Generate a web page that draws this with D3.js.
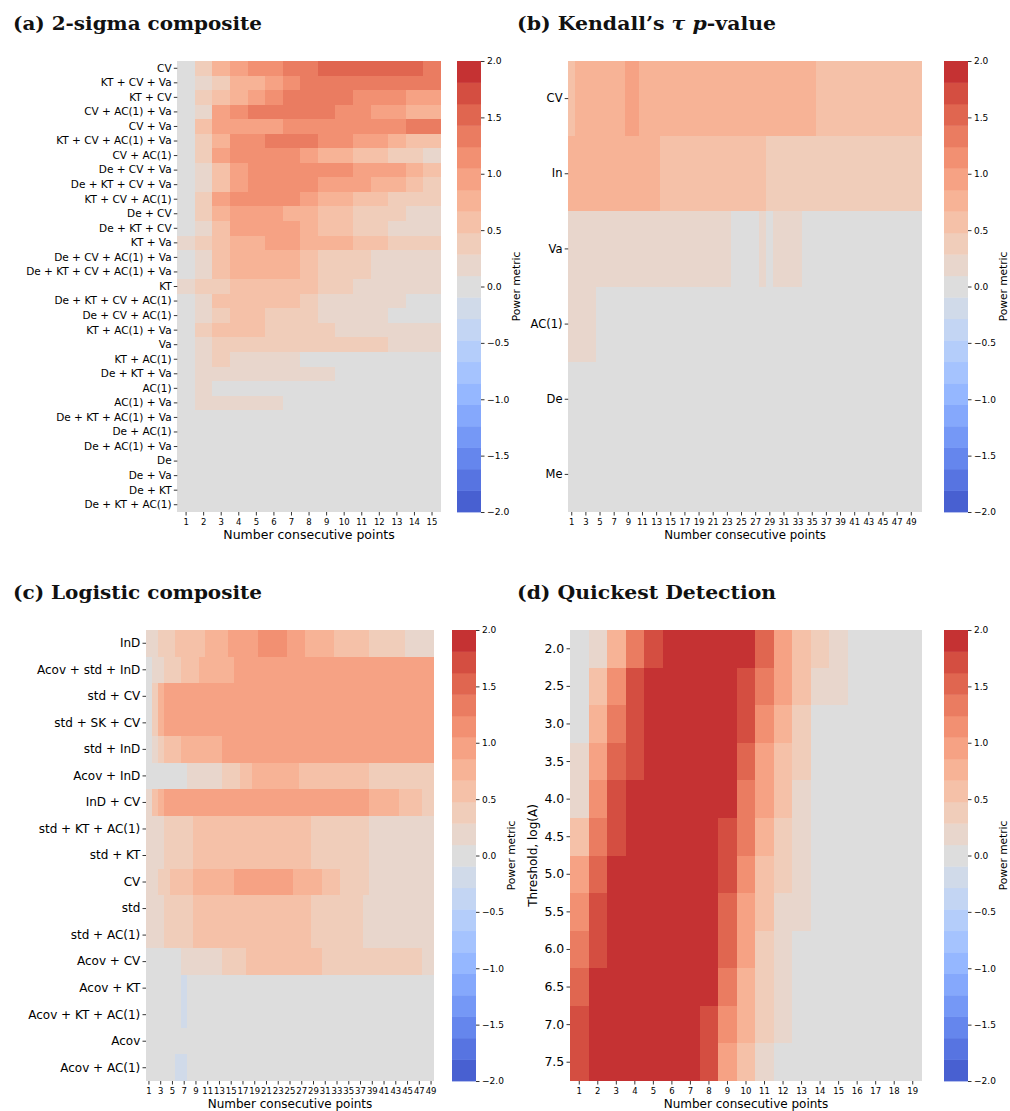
<!DOCTYPE html>
<html><head><meta charset="utf-8">
<script src="https://cdn.jsdelivr.net/npm/d3@7"></script>
<style>body{margin:0;background:#fff}svg{display:block}</style>
</head><body>
<svg id="chart" width="1010" height="1111"></svg>
<script>
// ---------------- DATA ----------------
const rowsA = ["CV","KT + CV + Va","KT + CV","CV + AC(1) + Va","CV + Va","KT + CV + AC(1) + Va","CV + AC(1)",
  "De + CV + Va","De + KT + CV + Va","KT + CV + AC(1)","De + CV","De + KT + CV","KT + Va","De + CV + AC(1) + Va",
  "De + KT + CV + AC(1) + Va","KT","De + KT + CV + AC(1)","De + CV + AC(1)","KT + AC(1) + Va","Va","KT + AC(1)",
  "De + KT + Va","AC(1)","AC(1) + Va","De + KT + AC(1) + Va","De + AC(1)","De + AC(1) + Va","De","De + Va","De + KT","De + KT + AC(1)"];
const colsA = ["1","2","3","4","5","6","7","8","9","10","11","12","13","14","15"];
const valuesA = [
  [0,.4,.8,1,1.2,1.2,1.4,1.4,1.6,1.6,1.6,1.6,1.6,1.6,1.4],
  [0,.2,.4,.8,.8,1,1.2,1.4,1.4,1.4,1.4,1.4,1.4,1.4,1.4],
  [0,.4,.6,.8,1,1.2,1.4,1.4,1.4,1.4,1.2,1.2,1.2,1,1],
  [0,.2,1,1.2,1.4,1.4,1.4,1.4,1.4,1.2,1.2,1,1,.8,.8],
  [0,.6,1,1,1,1,1.2,1.2,1.2,1.2,1.2,1.2,1.2,1.4,1.4],
  [0,.4,.8,1.2,1.2,1.4,1.4,1.4,1.2,1.2,1,1,.8,.6,.6],
  [0,.4,1,1.2,1.2,1.2,1.2,1,.8,.8,.6,.6,.4,.4,.2],
  [0,.2,.6,1,1.2,1.2,1.2,1.2,1.2,1.2,1,1,1,.8,.6],
  [0,.2,.6,1,1.2,1.2,1.2,1.2,1,1,1,.8,.8,.6,.4],
  [0,.4,1,1.2,1.2,1.2,1.2,1,.8,.8,.6,.6,.4,.4,.4],
  [0,.4,.8,1,1,1,.8,.8,.6,.6,.4,.4,.4,.2,.2],
  [0,.2,.6,1,1,1,1,.8,.6,.6,.4,.4,.2,.2,.2],
  [.2,.4,.6,.8,.8,1,1,.8,.8,.8,.6,.6,.4,.4,.4],
  [0,.2,.6,.8,.8,.8,.8,.6,.4,.4,.4,.2,.2,.2,.2],
  [0,.2,.6,.8,.8,.8,.8,.6,.4,.4,.4,.2,.2,.2,.2],
  [.2,.4,.4,.6,.6,.6,.6,.6,.4,.4,.2,.2,.2,.2,.2],
  [0,.2,.6,.6,.6,.6,.6,.4,.2,.2,.2,.2,.2,0,0],
  [0,.2,.4,.6,.6,.4,.4,.4,.2,.2,.2,.2,0,0,0],
  [0,.4,.6,.6,.6,.4,.4,.4,.4,.2,.2,.2,.2,.2,.2],
  [0,.2,.4,.4,.4,.4,.4,.4,.4,.4,.4,.4,.2,.2,.2],
  [0,.2,.4,.2,.2,.2,.2,0,0,0,0,0,0,0,0],
  [0,.2,.2,.2,.2,.2,.2,.2,.2,0,0,0,0,0,0],
  [0,.2,0,0,0,0,0,0,0,0,0,0,0,0,0],
  [0,.2,.2,.2,.2,.2,0,0,0,0,0,0,0,0,0],
  [0,0,0,0,0,0,0,0,0,0,0,0,0,0,0],
  [0,0,0,0,0,0,0,0,0,0,0,0,0,0,0],
  [0,0,0,0,0,0,0,0,0,0,0,0,0,0,0],
  [0,0,0,0,0,0,0,0,0,0,0,0,0,0,0],
  [0,0,0,0,0,0,0,0,0,0,0,0,0,0,0],
  [0,0,0,0,0,0,0,0,0,0,0,0,0,0,0],
  [0,0,0,0,0,0,0,0,0,0,0,0,0,0,0]
];

const rowsB = ["CV","In","Va","AC(1)","De","Me"];
const colsB = ["1","2","3","4","5","6","7","8","9","10","11","12","13","14","15","16","17","18","19","20",
  "21","22","23","24","25","26","27","28","29","30","31","32","33","34","35","36","37","38","39","40",
  "41","42","43","44","45","46","47","48","49","50"];
const xTicksB = ["1","3","5","7","9","11","13","15","17","19","21","23","25","27","29","31","33","35","37","39",
  "41","43","45","47","49"];
const valuesB = [
  [.6,.8,.8,.8,.8,.8,.8,.8,1,1, .8,.8,.8,.8,.8,.8,.8,.8,.8,.8, .8,.8,.8,.8,.8,.8,.8,.8,.8,.8,
   .8,.8,.8,.8,.8,.6,.6,.6,.6,.6, .6,.6,.6,.6,.6,.6,.6,.6,.6,.6],
  [.8,.8,.8,.8,.8,.8,.8,.8,.8,.8, .8,.8,.8,.6,.6,.6,.6,.6,.6,.6, .6,.6,.6,.6,.6,.6,.6,.6,.4,.4,
   .4,.4,.4,.4,.4,.4,.4,.4,.4,.4, .4,.4,.4,.4,.4,.4,.4,.4,.4,.4],
  [.2,.2,.2,.2,.2,.2,.2,.2,.2,.2, .2,.2,.2,.2,.2,.2,.2,.2,.2,.2, .2,.2,.2,0,0,0,0,.2,0,.2,
   .2,.2,.2,0,0,0,0,0,0,0, 0,0,0,0,0,0,0,0,0,0],
  [.2,.2,.2,.2,0,0,0,0,0,0, 0,0,0,0,0,0,0,0,0,0, 0,0,0,0,0,0,0,0,0,0,
   0,0,0,0,0,0,0,0,0,0, 0,0,0,0,0,0,0,0,0,0],
  [0,0,0,0,0,0,0,0,0,0, 0,0,0,0,0,0,0,0,0,0, 0,0,0,0,0,0,0,0,0,0,
   0,0,0,0,0,0,0,0,0,0, 0,0,0,0,0,0,0,0,0,0],
  [0,0,0,0,0,0,0,0,0,0, 0,0,0,0,0,0,0,0,0,0, 0,0,0,0,0,0,0,0,0,0,
   0,0,0,0,0,0,0,0,0,0, 0,0,0,0,0,0,0,0,0,0]
];

const rowsC = ["InD","Acov + std + InD","std + CV","std + SK + CV","std + InD","Acov + InD","InD + CV",
  "std + KT + AC(1)","std + KT","CV","std","std + AC(1)","Acov + CV","Acov + KT","Acov + KT + AC(1)","Acov","Acov + AC(1)"];
const colsC = ["1","2","3","4","5","6","7","8","9","10","11","12","13","14","15","16","17","18","19","20",
  "21","22","23","24","25","26","27","28","29","30","31","32","33","34","35","36","37","38","39","40",
  "41","42","43","44","45","46","47","48","49"];
const xTicksC = ["1","3","5","7","9","11","13","15","17","19","21","23","25","27","29","31","33","35","37","39",
  "41","43","45","47","49"];
const valuesC = [
  [.2,.2,.4,.4,.4,.6,.6,.6,.6,.6, .8,.8,.8,.8,1,1,1,1,1,1.2, 1.2,1.2,1.2,1.2,1,1,1,.8,.8,.8,
   .8,.8,.6,.6,.6,.6,.6,.6,.4,.4, .4,.4,.4,.4,.2,.2,.2,.2,.2],
  [0,.2,.2,.4,.4,.4,.6,.6,.6,.8, .8,.8,.8,.8,.8,1,1,1,1,1, 1,1,1,1,1,1,1,1,1,1,
   1,1,1,1,1,1,1,1,1,1, 1,1,1,1,1,1,1,1,1],
  [0,.4,.8,1,1,1,1,1,1,1, 1,1,1,1,1,1,1,1,1,1, 1,1,1,1,1,1,1,1,1,1,
   1,1,1,1,1,1,1,1,1,1, 1,1,1,1,1,1,1,1,1],
  [0,.4,.8,1,1,1,1,1,1,1, 1,1,1,1,1,1,1,1,1,1, 1,1,1,1,1,1,1,1,1,1,
   1,1,1,1,1,1,1,1,1,1, 1,1,1,1,1,1,1,1,1],
  [0,.2,.4,.6,.6,.6,.8,.8,.8,.8, .8,.8,.8,1,1,1,1,1,1,1, 1,1,1,1,1,1,1,1,1,1,
   1,1,1,1,1,1,1,1,1,1, 1,1,1,1,1,1,1,1,1],
  [0,0,0,0,0,0,0,.2,.2,.2, .2,.2,.2,.4,.4,.4,.6,.6,.8,.8, .8,.8,.8,.8,.8,.8,.6,.6,.6,.6,
   .6,.6,.6,.6,.6,.6,.6,.6,.4,.4, .4,.4,.4,.4,.4,.4,.4,.4,.4],
  [.2,.6,.8,1,1,1,1,1,1,1, 1,1,1,1,1,1,1,1,1,1, 1,1,1,1,1,1,1,1,1,1,
   1,1,1,1,1,1,1,1,.8,.8, .8,.8,.8,.6,.6,.6,.6,.4,.4],
  [.2,.2,.2,.4,.4,.4,.4,.4,.6,.6, .6,.6,.6,.6,.6,.6,.6,.6,.6,.6, .6,.6,.6,.6,.6,.6,.6,.6,.4,.4,
   .4,.4,.4,.4,.4,.4,.4,.4,.2,.2, .2,.2,.2,.2,.2,.2,.2,.2,.2],
  [.2,.2,.2,.4,.4,.4,.4,.4,.6,.6, .6,.6,.6,.6,.6,.6,.6,.6,.6,.6, .6,.6,.6,.6,.6,.6,.6,.6,.4,.4,
   .4,.4,.4,.4,.4,.4,.4,.4,.2,.2, .2,.2,.2,.2,.2,.2,.2,.2,.2],
  [.2,.2,.4,.4,.6,.6,.6,.6,.8,.8, .8,.8,.8,.8,.8,1,1,1,1,1, 1,1,1,1,1,.8,.8,.8,.8,.8,
   .6,.6,.6,.4,.4,.4,.4,.4,.2,.2, .2,.2,.2,.2,.2,.2,.2,.2,.2],
  [.2,.2,.2,.4,.4,.4,.4,.4,.6,.6, .6,.6,.6,.6,.6,.6,.6,.6,.6,.6, .6,.6,.6,.6,.6,.6,.6,.6,.4,.4,
   .4,.4,.4,.4,.4,.4,.4,.2,.2,.2, .2,.2,.2,.2,.2,.2,.2,.2,.2],
  [.2,.2,.2,.4,.4,.4,.4,.4,.6,.6, .6,.6,.6,.6,.6,.6,.6,.6,.6,.6, .6,.6,.6,.6,.6,.6,.6,.6,.4,.4,
   .4,.4,.4,.4,.4,.4,.4,.2,.2,.2, .2,.2,.2,.2,.2,.2,.2,.2,.2],
  [0,0,0,0,0,0,.2,.2,.2,.2, .2,.2,.2,.4,.4,.4,.4,.6,.6,.6, .6,.6,.6,.6,.6,.6,.6,.6,.6,.6,
   .4,.4,.4,.4,.4,.4,.4,.4,.4,.4, .4,.4,.4,.4,.4,.4,.4,.2,.2],
  [0,0,0,0,0,0,-.2,0,0,0, 0,0,0,0,0,0,0,0,0,0, 0,0,0,0,0,0,0,0,0,0,
   0,0,0,0,0,0,0,0,0,0, 0,0,0,0,0,0,0,0,0],
  [0,0,0,0,0,0,-.2,0,0,0, 0,0,0,0,0,0,0,0,0,0, 0,0,0,0,0,0,0,0,0,0,
   0,0,0,0,0,0,0,0,0,0, 0,0,0,0,0,0,0,0,0],
  [0,0,0,0,0,0,0,0,0,0, 0,0,0,0,0,0,0,0,0,0, 0,0,0,0,0,0,0,0,0,0,
   0,0,0,0,0,0,0,0,0,0, 0,0,0,0,0,0,0,0,0],
  [0,0,0,0,0,-.2,-.2,0,0,0, 0,0,0,0,0,0,0,0,0,0, 0,0,0,0,0,0,0,0,0,0,
   0,0,0,0,0,0,0,0,0,0, 0,0,0,0,0,0,0,0,0]
];

const rowsD = ["2.0","2.5","3.0","3.5","4.0","4.5","5.0","5.5","6.0","6.5","7.0","7.5"];
const colsD = ["1","2","3","4","5","6","7","8","9","10","11","12","13","14","15","16","17","18","19"];
const valuesD = [
  [0,.2,.8,1.4,1.8,2,2,2,2,2,1.6,1,.6,.4,.2,0,0,0,0],
  [0,.6,1.2,1.8,2,2,2,2,2,1.8,1.4,1,.6,.2,.2,0,0,0,0],
  [0,.8,1.4,1.8,2,2,2,2,2,1.8,1.2,.8,.4,0,0,0,0,0,0],
  [.2,1,1.6,1.8,2,2,2,2,2,1.6,1,.6,.4,0,0,0,0,0,0],
  [.2,1.2,1.8,2,2,2,2,2,2,1.4,1,.6,.2,0,0,0,0,0,0],
  [.6,1.4,1.8,2,2,2,2,2,1.8,1.4,.8,.4,.2,0,0,0,0,0,0],
  [1,1.6,2,2,2,2,2,2,1.8,1.2,.6,.4,.2,0,0,0,0,0,0],
  [1.2,1.8,2,2,2,2,2,2,1.6,1,.6,.2,.2,0,0,0,0,0,0],
  [1.4,1.8,2,2,2,2,2,2,1.6,1,.4,.2,0,0,0,0,0,0,0],
  [1.6,2,2,2,2,2,2,2,1.4,.8,.4,.2,0,0,0,0,0,0,0],
  [1.8,2,2,2,2,2,2,1.8,1.2,.8,.4,.2,0,0,0,0,0,0,0],
  [1.8,2,2,2,2,2,2,1.8,1,.6,.2,0,0,0,0,0,0,0,0]
];

const colorbarTicks = [-2,-1.5,-1,-0.5,0,0.5,1,1.5,2];

// ---------------- COLOURS (matplotlib coolwarm, 21 discrete levels) ----------------
const coolwarmTable = [
 [0.230,0.299,0.754],[0.266,0.353,0.801],[0.304,0.407,0.845],[0.343,0.459,0.884],[0.383,0.509,0.917],
 [0.424,0.558,0.946],[0.467,0.605,0.968],[0.510,0.648,0.985],[0.553,0.689,0.995],[0.596,0.726,1.000],
 [0.639,0.760,0.998],[0.681,0.789,0.990],[0.722,0.814,0.977],[0.761,0.834,0.957],[0.799,0.850,0.932],
 [0.833,0.860,0.901],[0.865,0.865,0.865],[0.898,0.849,0.821],[0.924,0.827,0.775],[0.944,0.801,0.727],
 [0.959,0.770,0.678],[0.967,0.734,0.629],[0.970,0.694,0.579],[0.967,0.650,0.530],[0.958,0.603,0.482],
 [0.944,0.552,0.434],[0.924,0.497,0.388],[0.899,0.440,0.343],[0.869,0.378,0.300],[0.835,0.313,0.259],
 [0.796,0.241,0.221],[0.753,0.157,0.184],[0.706,0.016,0.150]];
function coolwarm(t){
  const p = t*32, i = Math.min(31, Math.floor(p)), f = p - i;
  const a = coolwarmTable[i], b = coolwarmTable[i+1];
  return d3.rgb(...[0,1,2].map(k => Math.round(255*(a[k] + (b[k]-a[k])*f)))).formatHex();
}
const palette = d3.range(21).map(i => coolwarm((i+1)/22));
const color = d3.scaleQuantize().domain([-2,2]).range(palette);

// ---------------- DRAW ----------------
const svg = d3.select("#chart");
const SANS = "DejaVu Sans, Verdana, sans-serif";

function drawPanel(p){
  const g = svg.append("g");
  const x = d3.scaleBand().domain(p.cols).range([p.x0, p.x1]);
  const y = d3.scaleBand().domain(p.rows).range([p.y0, p.y1]);
  const cells = [];
  p.values.forEach((row,i) => row.forEach((v,j) => cells.push({r:p.rows[i], c:p.cols[j], v})));
  g.append("g").selectAll("rect").data(cells).join("rect")
    .attr("x", d => x(d.c)).attr("y", d => y(d.r))
    .attr("width", x.bandwidth()).attr("height", y.bandwidth())
    .attr("fill", d => color(d.v)).attr("shape-rendering","crispEdges");

  const ya = g.append("g").attr("transform",`translate(${p.x0},0)`)
    .call(d3.axisLeft(y).tickSize(3.5).tickPadding(2.2));
  ya.select(".domain").remove();
  ya.attr("font-size", p.yFont).attr("font-family", SANS);
  ya.selectAll("text").attr("fill","#000");
  ya.selectAll("line").attr("stroke","#000").attr("stroke-width",0.8);

  const xa = g.append("g").attr("transform",`translate(0,${p.y1})`)
    .call(d3.axisBottom(x).tickValues(p.xTicks || p.cols).tickSize(3.5).tickPadding(3));
  xa.select(".domain").remove();
  xa.attr("font-size", p.xFont).attr("font-family", SANS);
  xa.selectAll("text").attr("fill","#000");
  xa.selectAll("line").attr("stroke","#000").attr("stroke-width",0.8);

  g.append("text").attr("x", (p.x0+p.x1)/2).attr("y", p.y1 + 26.5)
    .attr("text-anchor","middle").attr("font-family", SANS).attr("font-size", p.labelFont)
    .attr("fill","#000").text("Number consecutive points");

  if (p.yLabel) {
    g.append("text").attr("transform",`translate(${p.yLabelX},${(p.y0+p.y1)/2}) rotate(-90)`)
      .attr("text-anchor","middle").attr("font-family", SANS).attr("font-size", p.labelFont)
      .attr("fill","#000").text(p.yLabel);
  }

  // colorbar
  const cy = d3.scaleLinear().domain([-2,2]).range([p.y1, p.y0]);
  const bins = palette.map((c,i) => ({c, lo:-2+4*i/21, hi:-2+4*(i+1)/21}));
  g.append("g").selectAll("rect").data(bins).join("rect")
    .attr("x", p.cb0).attr("width", p.cb1 - p.cb0)
    .attr("y", d => cy(d.hi)).attr("height", d => cy(d.lo) - cy(d.hi) + 0.4)
    .attr("fill", d => d.c);
  const ca = g.append("g").attr("transform",`translate(${p.cb1},0)`)
    .call(d3.axisRight(cy).tickValues(colorbarTicks).tickFormat(d3.format(".1f")).tickSize(3.5).tickPadding(2.5));
  ca.select(".domain").remove();
  ca.attr("font-size", p.cbFont).attr("font-family", SANS);
  ca.selectAll("text").attr("fill","#000");
  ca.selectAll("line").attr("stroke","#000").attr("stroke-width",0.8);
  g.append("text").attr("transform",`translate(${p.cb1+39},${(p.y0+p.y1)/2}) rotate(-90)`)
    .attr("text-anchor","middle").attr("font-family", SANS).attr("font-size", p.cbLabelFont)
    .attr("fill","#000").text("Power metric");

  // title
  const t = svg.append("text").attr("x", p.tx).attr("y", p.ty)
    .attr("font-family","DejaVu Serif, Liberation Serif, serif").attr("font-weight","bold")
    .attr("font-size", 19).attr("fill","#111")
    .attr("textLength", p.tw).attr("lengthAdjust","spacingAndGlyphs");
  p.title.forEach(s => t.append("tspan").attr("font-style", s.it ? "italic" : null).text(s.t));
}

drawPanel({rows:rowsA, cols:colsA, values:valuesA, x0:177.3, x1:440.8, y0:61, y1:512,
  cb0:457, cb1:481, yFont:10.5, xFont:8.5, labelFont:12.5, cbFont:9.2, cbLabelFont:10.6,
  tx:13, ty:30, tw:249, title:[{t:"(a) 2-sigma composite"}]});
drawPanel({rows:rowsB, cols:colsB, xTicks:xTicksB, values:valuesB, x0:568.2, x1:921.9, y0:61, y1:512,
  cb0:944, cb1:968, yFont:11.5, xFont:8.5, labelFont:11.8, cbFont:9, cbLabelFont:10.6,
  tx:517, ty:30, tw:259, title:[{t:"(b) Kendall\u2019s "},{t:"\u03c4",it:true},{t:" "},{t:"p",it:true},{t:"-value"}]});
drawPanel({rows:rowsC, cols:colsC, xTicks:xTicksC, values:valuesC, x0:146, x1:434, y0:630, y1:1081,
  cb0:452, cb1:476, yFont:12, xFont:8.5, labelFont:12, cbFont:9, cbLabelFont:10.6,
  tx:13, ty:599, tw:249, title:[{t:"(c) Logistic composite"}]});
drawPanel({rows:rowsD, cols:colsD, values:valuesD, x0:570, x1:922, y0:630, y1:1081,
  cb0:944, cb1:968, yFont:12.5, xFont:8.5, labelFont:12, cbFont:9, cbLabelFont:10.6,
  yLabel:"Threshold, log(A)", yLabelX:537,
  tx:517, ty:599, tw:259, title:[{t:"(d) Quickest Detection"}]});
</script>
</body></html>
